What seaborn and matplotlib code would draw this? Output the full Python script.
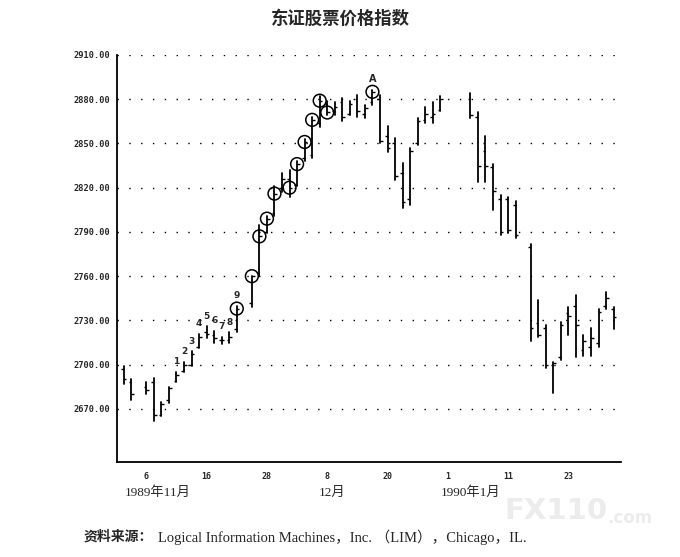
import pandas as pd
import numpy as np
import matplotlib
matplotlib.use('Agg')
import matplotlib.pyplot as plt
import matplotlib.transforms as mtransforms
import seaborn as sns

# 数据：东证股票价格指数 日线 (1989.11 - 1990.1)
dates = ['1989-11-01', '1989-11-02', '1989-11-06', '1989-11-07', '1989-11-08', '1989-11-09',
         '1989-11-10', '1989-11-13', '1989-11-14', '1989-11-15', '1989-11-16', '1989-11-17',
         '1989-11-20', '1989-11-21', '1989-11-22', '1989-11-24', '1989-11-27', '1989-11-28',
         '1989-11-29', '1989-11-30', '1989-12-01', '1989-12-04', '1989-12-05', '1989-12-06',
         '1989-12-07', '1989-12-08', '1989-12-11', '1989-12-12', '1989-12-13', '1989-12-14',
         '1989-12-15', '1989-12-18', '1989-12-19', '1989-12-20', '1989-12-21', '1989-12-22',
         '1989-12-25', '1989-12-26', '1989-12-27', '1989-12-28', '1989-12-29', '1990-01-04',
         '1990-01-05', '1990-01-08', '1990-01-09', '1990-01-10', '1990-01-11', '1990-01-12',
         '1990-01-16', '1990-01-17', '1990-01-18', '1990-01-19', '1990-01-22', '1990-01-23',
         '1990-01-24', '1990-01-25', '1990-01-26', '1990-01-29', '1990-01-30', '1990-01-31']
highs = [2699, 2690, 2688, 2691, 2675, 2685, 2695, 2702, 2709, 2721, 2726, 2723,
         2719, 2722, 2740, 2760, 2795, 2801, 2821, 2830, 2832, 2838, 2853, 2868,
         2882, 2879, 2878, 2881, 2879, 2883, 2876, 2886, 2883, 2862, 2854, 2837,
         2847, 2867, 2875, 2878, 2882, 2884, 2871, 2855, 2836, 2815, 2814, 2811,
         2782, 2744, 2727, 2702, 2729, 2739, 2747, 2720, 2725, 2738, 2749, 2739]
lows = [2687, 2676, 2680, 2662, 2665, 2674, 2688, 2695, 2699, 2711, 2718, 2715,
        2714, 2715, 2722, 2739, 2760, 2789, 2801, 2817, 2814, 2821, 2838, 2840,
        2861, 2869, 2869, 2865, 2869, 2868, 2867, 2876, 2850, 2844, 2825, 2806,
        2808, 2849, 2864, 2864, 2872, 2867, 2824, 2824, 2805, 2788, 2789, 2786,
        2716, 2719, 2698, 2681, 2703, 2720, 2705, 2706, 2706, 2712, 2738, 2724]
opens = [2697, 2688, 2685, 2688, 2666, 2676, 2689, 2696, 2700, 2712, 2722, 2720,
         2717, 2717, 2724, 2742, 2762, 2790, 2803, 2820, 2826, 2822, 2840, 2842,
         2864, 2877, 2872, 2878, 2870, 2880, 2870, 2878, 2880, 2855, 2850, 2830,
         2812, 2850, 2866, 2868, 2873, 2880, 2868, 2845, 2834, 2812, 2812, 2808,
         2780, 2728, 2725, 2700, 2705, 2735, 2740, 2710, 2712, 2715, 2740, 2738]
closes = [2690, 2680, 2683, 2666, 2673, 2684, 2693, 2700, 2707, 2719, 2721, 2718,
          2717, 2719, 2738, 2760, 2787, 2799, 2816, 2826, 2820, 2836, 2851, 2866,
          2879, 2871, 2875, 2868, 2877, 2872, 2874, 2885, 2852, 2847, 2828, 2810,
          2845, 2865, 2870, 2870, 2880, 2869, 2835, 2835, 2818, 2790, 2791, 2788,
          2725, 2720, 2700, 2701, 2727, 2733, 2727, 2716, 2718, 2736, 2745, 2732]

# 画圈的新高 (新价记录)
circle_dates = ['1989-11-22', '1989-11-24', '1989-11-27', '1989-11-28', '1989-11-29', '1989-12-01',
                '1989-12-04', '1989-12-05', '1989-12-06', '1989-12-07', '1989-12-08', '1989-12-18']
circle_vals = [2738, 2760, 2787, 2799, 2816, 2820, 2836, 2851, 2866, 2879, 2871, 2885]

count_dates = ['1989-11-10', '1989-11-13', '1989-11-14', '1989-11-15', '1989-11-16',
               '1989-11-17', '1989-11-20', '1989-11-21', '1989-11-22']
count_labels = ['1', '2', '3', '4', '5', '6', '7', '8', '9']

xtick_dates = ['1989-11-06', '1989-11-16', '1989-11-28', '1989-12-08', '1989-12-20',
               '1990-01-01', '1990-01-11', '1990-01-23']
xtick_labels = ['6', '16', '28', '8', '20', '1', '11', '23']
yticks = [2670, 2700, 2730, 2760, 2790, 2820, 2850, 2880, 2910]

# 横轴按工作日排列 (节假日留空)
wdays = pd.bdate_range('1989-11-01', '1990-01-31')
pos_of = {d.strftime('%Y-%m-%d'): i for i, d in enumerate(wdays)}

df = pd.DataFrame({'date': dates, 'open': opens, 'high': highs, 'low': lows, 'close': closes})
df['pos'] = df['date'].map(pos_of)
long = df.melt(id_vars=['date', 'pos'], value_vars=['low', 'high'], value_name='price')

sns.set_style('white')
plt.rcParams['font.family'] = ['DejaVu Sans', 'Noto Sans CJK SC']

fig = plt.figure(figsize=(6.8, 5.57), dpi=100)
ax = fig.add_axes([0.172, 0.1706, 0.747, 0.7307])

# 高低线
sns.lineplot(data=long, x='pos', y='price', units='date', estimator=None,
             color='black', lw=1.3, sort=False, legend=False, ax=ax)
# 开盘/收盘短横
ax.hlines(df['open'], df['pos'] - 0.35, df['pos'], color='black', lw=1.0)
ax.hlines(df['close'], df['pos'], df['pos'] + 0.35, color='black', lw=1.0)

# 圈
cpos = [pos_of[d] for d in circle_dates]
ax.scatter(cpos, circle_vals, s=85, facecolors='none', edgecolors='black', linewidths=1.1, zorder=3)

# 计数 1-9
for d, lab in zip(count_dates, count_labels):
    p = pos_of[d]
    top = df.loc[df['pos'] == p, 'high'].iloc[0]
    ax.annotate(lab, (p, top), xytext=(0, 4), textcoords='offset points',
                ha='center', va='bottom', fontsize=6.5, fontweight='bold')
ax.annotate('A', (pos_of['1989-12-18'], circle_vals[-1]), xytext=(0, 6),
            textcoords='offset points', ha='center', va='bottom', fontsize=7, fontweight='bold')

# 点状网格线
for v in yticks:
    ax.axhline(v, color='black', lw=1.0, ls=(0, (1, 7.5)), zorder=0)

ax.set_xlim(-0.9, 66.5)
ax.set_ylim(2634, 2910)
ax.set_yticks(yticks)
ax.set_yticklabels([f'{v:.2f}' for v in yticks], family='DejaVu Sans Mono',
                   fontweight='bold', fontsize=6.2)
ax.set_xticks([wdays.get_loc(pd.Timestamp(d)) for d in xtick_dates])
ax.set_xticklabels(xtick_labels, family='DejaVu Sans Mono', fontweight='bold', fontsize=6)
ax.set_xticks(np.arange(3, 66, 4), minor=True)
ax.tick_params(axis='both', which='both', direction='in', length=4, width=1, color='black', pad=5)
ax.tick_params(axis='x', which='major', pad=7)
ax.set_xlabel('')
ax.set_ylabel('')

for s in ['top', 'right']:
    ax.spines[s].set_visible(False)
for s in ['left', 'bottom']:
    ax.spines[s].set_color('black')
    ax.spines[s].set_linewidth(1.3)
ax.spines['bottom'].set_bounds(-0.9, 66)

# 月份
trans = mtransforms.blended_transform_factory(ax.transData, ax.transAxes)
for txt, x in [('1989年11月', 4.5), ('12月', 27.6), ('1990年1月', 46)]:
    ax.text(x, -0.076, txt, transform=trans, ha='center', va='center', fontsize=9.5,
            family=['Liberation Serif', 'Noto Sans CJK SC'])

fig.text(0.5, 0.966, '东证股票价格指数', ha='center', va='center', fontsize=12.5,
         fontweight='bold', family=['Noto Sans CJK SC'])

# 水印
fig.text(0.742, 0.082, 'FX110', fontsize=21, fontweight='bold', color='#ececec', va='center')
fig.text(0.893, 0.070, '.com', fontsize=12, fontweight='bold', color='#ececec', va='center')

fig.text(0.123, 0.036, '资料来源：', ha='left', va='center', fontsize=10, fontweight='bold',
         family=['Noto Sans CJK SC'])
fig.text(0.232, 0.036, 'Logical Information Machines，Inc. （LIM），Chicago，IL.',
         ha='left', va='center', fontsize=10.5, family=['Liberation Serif', 'Noto Sans CJK SC'])

fig.savefig('out.png', dpi=100)
